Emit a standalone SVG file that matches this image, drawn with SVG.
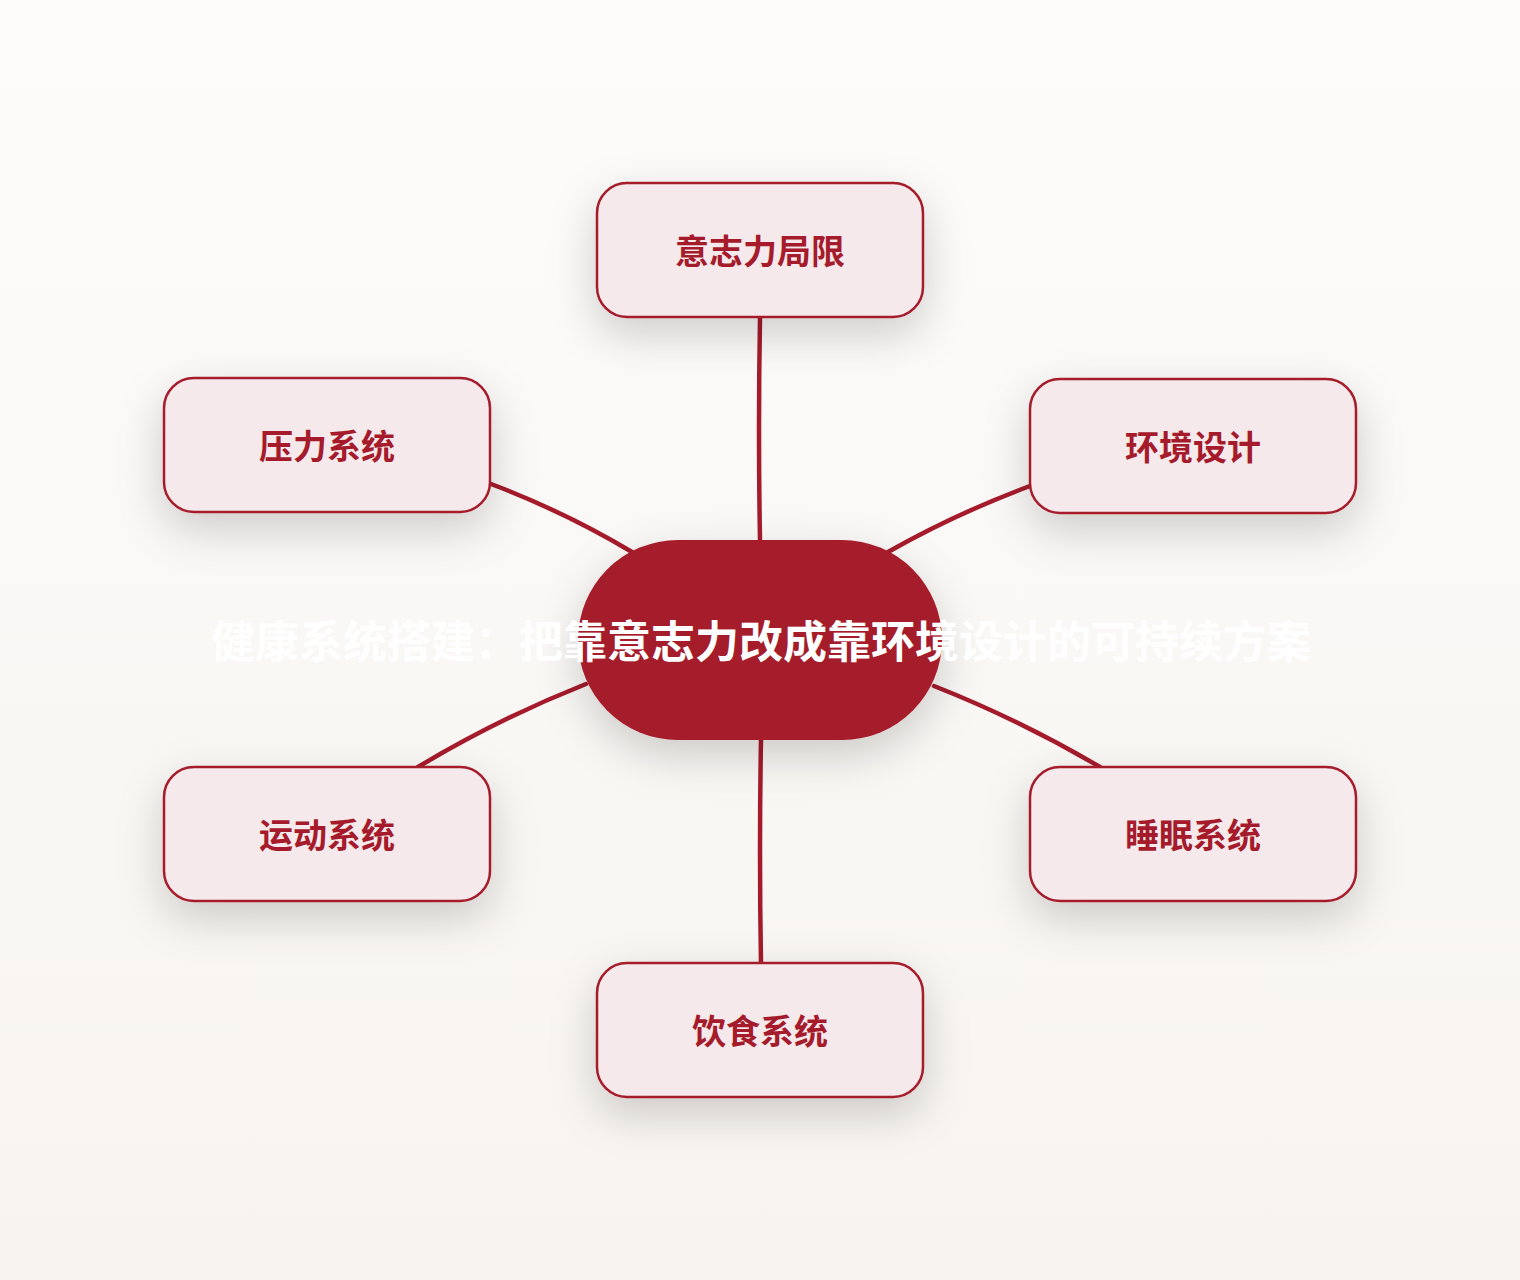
<svg xmlns="http://www.w3.org/2000/svg" width="1520" height="1280" viewBox="0 0 1520 1280">
<defs>
<linearGradient id="bg" x1="0" y1="0" x2="0" y2="1">
<stop offset="0" stop-color="#fdfcfb"/>
<stop offset="1" stop-color="#f7f4f0"/>
</linearGradient>
<filter id="sh" x="-40%" y="-40%" width="180%" height="200%">
<feDropShadow dx="0" dy="16" stdDeviation="22" flood-color="#000" flood-opacity="0.18"/>
</filter>
</defs>
<style>
.box{fill:#f5e9ec;stroke:#a51b2b;stroke-width:2.5;filter:url(#sh)}
.lbl{font-family:"Noto Sans CJK SC","Noto Sans CJK JP",sans-serif;font-weight:700;font-size:34px;fill:#a51b2b;text-anchor:middle}
.ttl{font-family:"Noto Sans CJK SC","Noto Sans CJK JP",sans-serif;font-weight:700;font-size:44px;fill:#ffffff;text-anchor:middle}
.con{fill:none;stroke:#a51b2b;stroke-width:4.5;stroke-linecap:round}
</style>
<rect x="0" y="0" width="1520" height="1280" fill="url(#bg)"/>
<g id="connectors">
<path class="con" d="M760,318 Q758,430 760,540"/>
<path class="con" d="M491,484 Q565,512 632,552"/>
<path class="con" d="M1030,486 Q955,514 888,552"/>
<path class="con" d="M586,684 Q500,718 418,767"/>
<path class="con" d="M934,686 Q1020,720 1100,767"/>
<path class="con" d="M761,740 Q759,850 761,963"/>
</g>
<g id="center">
<rect x="578" y="540" width="364" height="200" rx="100" ry="100" fill="#a51b2b" filter="url(#sh)"/>
<text class="ttl" x="761" y="658">健康系统搭建：把靠意志力改成靠环境设计的可持续方案</text>
</g>
<g id="n-willpower">
<rect class="box" x="597" y="183" width="326" height="134" rx="30"/>
<text class="lbl" x="760" y="264">意志力局限</text>
</g>
<g id="n-stress">
<rect class="box" x="164" y="378" width="326" height="134" rx="30"/>
<text class="lbl" x="327" y="459">压力系统</text>
</g>
<g id="n-env">
<rect class="box" x="1030" y="379" width="326" height="134" rx="30"/>
<text class="lbl" x="1193" y="460">环境设计</text>
</g>
<g id="n-exercise">
<rect class="box" x="164" y="767" width="326" height="134" rx="30"/>
<text class="lbl" x="327" y="848">运动系统</text>
</g>
<g id="n-sleep">
<rect class="box" x="1030" y="767" width="326" height="134" rx="30"/>
<text class="lbl" x="1193" y="848">睡眠系统</text>
</g>
<g id="n-diet">
<rect class="box" x="597" y="963" width="326" height="134" rx="30"/>
<text class="lbl" x="760" y="1044">饮食系统</text>
</g>
</svg>
